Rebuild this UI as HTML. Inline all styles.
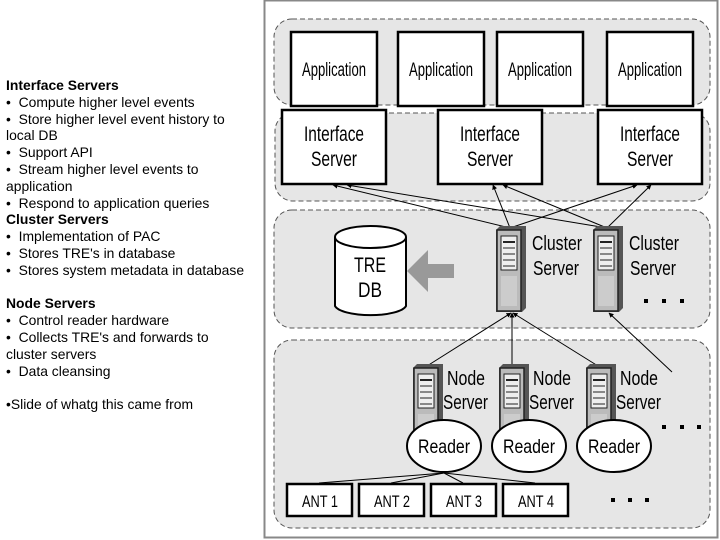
<!DOCTYPE html>
<html><head><style>
body{margin:0;width:720px;height:540px;background:#fff;overflow:hidden;position:relative;font-family:"Liberation Sans",Arial,sans-serif}
#txt{position:absolute;left:6px;top:77px;font-size:13.9px;line-height:16.8px;color:#000}
svg{position:absolute;left:0;top:0}
</style></head><body>
<div id="txt"><b>Interface Servers</b><br>• &nbsp;Compute higher level events<br>• &nbsp;Store higher level event history to<br>local DB<br>• &nbsp;Support API<br>• &nbsp;Stream higher level events to<br>application<br>• &nbsp;Respond to application queries<br><b>Cluster Servers</b><br>• &nbsp;Implementation of PAC<br>• &nbsp;Stores TRE's in database<br>• &nbsp;Stores system metadata in database<br><br><b>Node Servers</b><br>• &nbsp;Control reader hardware<br>• &nbsp;Collects TRE's and forwards to<br>cluster servers<br>• &nbsp;Data cleansing<br><br>•Slide of whatg this came from</div>
<svg width="720" height="540" font-family="Liberation Sans, sans-serif">
<defs>
<marker id="a" viewBox="0 0 10 10" refX="9" refY="5" markerWidth="5" markerHeight="5" orient="auto"><path d="M0,0L10,5L0,10z" fill="#000"/></marker>
<g id="tw">
<path d="M0,4 L4,0 L30,0 L30,82 L26,86 L0,86z" fill="#555"/>
<rect x="1" y="4" width="24" height="81" fill="#bbb" stroke="#222" stroke-width="1.5"/>
<rect x="5" y="10" width="16" height="34" fill="#eee" stroke="#222"/>
<line x1="7" y1="16" x2="19" y2="16" stroke="#222" stroke-width="2"/>
<line x1="7" y1="22" x2="19" y2="22" stroke="#222"/>
<line x1="7" y1="28" x2="19" y2="28" stroke="#222"/>
<line x1="7" y1="34" x2="19" y2="34" stroke="#222"/>
<line x1="7" y1="40" x2="19" y2="40" stroke="#222"/>
<rect x="5" y="50" width="16" height="30" fill="#ccc"/>
</g>
</defs>
<rect x="264.5" y="0.5" width="453" height="537" fill="#fff" stroke="#888" stroke-width="2"/>
<g fill="#e6e6e6" stroke="#555" stroke-dasharray="5,3" stroke-width="1">
<rect x="274" y="19" width="436" height="86" rx="18"/>
<rect x="275" y="113" width="435" height="88" rx="18"/>
<rect x="274" y="210" width="436" height="118" rx="18"/>
<rect x="274" y="340" width="436" height="188" rx="18"/>
</g>
<g fill="#fff" stroke="#000" stroke-width="2.5">
<rect x="291" y="32" width="86" height="74"/><rect x="398" y="32" width="86" height="74"/>
<rect x="497" y="32" width="86" height="74"/><rect x="607" y="32" width="86" height="74"/>
<rect x="282" y="110" width="104" height="74"/><rect x="438" y="110" width="104" height="74"/><rect x="598" y="110" width="104" height="74"/>
</g>
<g font-size="19" text-anchor="middle" fill="#000">
<text x="334" y="76" textLength="64" lengthAdjust="spacingAndGlyphs">Application</text>
<text x="441" y="76" textLength="64" lengthAdjust="spacingAndGlyphs">Application</text>
<text x="540" y="76" textLength="64" lengthAdjust="spacingAndGlyphs">Application</text>
<text x="650" y="76" textLength="64" lengthAdjust="spacingAndGlyphs">Application</text>
<g font-size="21">
<text x="334" y="141" textLength="60" lengthAdjust="spacingAndGlyphs">Interface</text><text x="334" y="166" textLength="46" lengthAdjust="spacingAndGlyphs">Server</text>
<text x="490" y="141" textLength="60" lengthAdjust="spacingAndGlyphs">Interface</text><text x="490" y="166" textLength="46" lengthAdjust="spacingAndGlyphs">Server</text>
<text x="650" y="141" textLength="60" lengthAdjust="spacingAndGlyphs">Interface</text><text x="650" y="166" textLength="46" lengthAdjust="spacingAndGlyphs">Server</text></g>
</g>
<g stroke="#000" stroke-width="1" marker-end="url(#a)">
<line x1="510" y1="228" x2="333" y2="185"/><line x1="510" y1="228" x2="493" y2="185"/><line x1="510" y1="228" x2="637" y2="185"/>
<line x1="607" y1="228" x2="347" y2="185"/><line x1="607" y1="228" x2="503" y2="185"/><line x1="607" y1="228" x2="651" y2="185"/>
<line x1="427" y1="366" x2="511" y2="313"/><line x1="512" y1="366" x2="512" y2="313"/><line x1="598" y1="366" x2="513" y2="313"/>
<line x1="672" y1="372" x2="609" y2="313"/>
</g>
<g stroke="#000" stroke-width="1">
<line x1="444" y1="473" x2="319" y2="483"/><line x1="444" y1="473" x2="391" y2="483"/>
<line x1="444" y1="473" x2="463" y2="483"/><line x1="444" y1="473" x2="535" y2="483"/>
</g>
<path d="M335,237 L335,306 A36,11 0 0 0 406,306 L406,237" fill="#fff" stroke="#000" stroke-width="2"/>
<ellipse cx="370.5" cy="237" rx="35.5" ry="11" fill="#fff" stroke="#000" stroke-width="2"/>
<text x="370" y="272" font-size="21" text-anchor="middle" textLength="32" lengthAdjust="spacingAndGlyphs">TRE</text>
<text x="370" y="297" font-size="21" text-anchor="middle" textLength="24" lengthAdjust="spacingAndGlyphs">DB</text>
<path d="M407,271 L428,250 L428,264 L454,264 L454,278 L428,278 L428,292z" fill="#999"/>
<use href="#tw" x="496" y="226"/><use href="#tw" x="593" y="226"/>
<use href="#tw" x="413" y="364"/><use href="#tw" x="499" y="364"/><use href="#tw" x="586" y="364"/>
<g font-size="20" fill="#000">
<text x="532" y="250" textLength="50" lengthAdjust="spacingAndGlyphs">Cluster</text><text x="533" y="275" textLength="46" lengthAdjust="spacingAndGlyphs">Server</text>
<text x="629" y="250" textLength="50" lengthAdjust="spacingAndGlyphs">Cluster</text><text x="630" y="275" textLength="46" lengthAdjust="spacingAndGlyphs">Server</text>
<text x="447" y="385" textLength="38" lengthAdjust="spacingAndGlyphs">Node</text><text x="443" y="409" textLength="45" lengthAdjust="spacingAndGlyphs">Server</text>
<text x="533" y="385" textLength="38" lengthAdjust="spacingAndGlyphs">Node</text><text x="529" y="409" textLength="45" lengthAdjust="spacingAndGlyphs">Server</text>
<text x="620" y="385" textLength="38" lengthAdjust="spacingAndGlyphs">Node</text><text x="616" y="409" textLength="45" lengthAdjust="spacingAndGlyphs">Server</text>
</g>
<g fill="#fff" stroke="#000" stroke-width="2">
<ellipse cx="444" cy="446" rx="37" ry="26"/><ellipse cx="529" cy="446" rx="37" ry="26"/><ellipse cx="614" cy="446" rx="37" ry="26"/>
</g>
<g font-size="19" text-anchor="middle">
<text x="444" y="453" textLength="52" lengthAdjust="spacingAndGlyphs">Reader</text>
<text x="529" y="453" textLength="52" lengthAdjust="spacingAndGlyphs">Reader</text>
<text x="614" y="453" textLength="52" lengthAdjust="spacingAndGlyphs">Reader</text></g>
<g fill="#fff" stroke="#000" stroke-width="2.5">
<rect x="287" y="484" width="65" height="32"/><rect x="359" y="484" width="65" height="32"/>
<rect x="431" y="484" width="65" height="32"/><rect x="503" y="484" width="65" height="32"/>
</g>
<g font-size="17" text-anchor="middle">
<text x="320" y="507" textLength="36" lengthAdjust="spacingAndGlyphs">ANT 1</text>
<text x="392" y="507" textLength="36" lengthAdjust="spacingAndGlyphs">ANT 2</text>
<text x="464" y="507" textLength="36" lengthAdjust="spacingAndGlyphs">ANT 3</text>
<text x="536" y="507" textLength="36" lengthAdjust="spacingAndGlyphs">ANT 4</text></g>
<g fill="#000">
<rect x="644" y="299" width="4" height="4"/><rect x="662" y="299" width="4" height="4"/><rect x="680" y="299" width="4" height="4"/>
<rect x="662" y="425" width="4" height="4"/><rect x="680" y="425" width="4" height="4"/><rect x="697" y="425" width="4" height="4"/>
<rect x="611" y="498" width="4" height="4"/><rect x="628" y="498" width="4" height="4"/><rect x="645" y="498" width="4" height="4"/>
</g>
</svg>
</body></html>
